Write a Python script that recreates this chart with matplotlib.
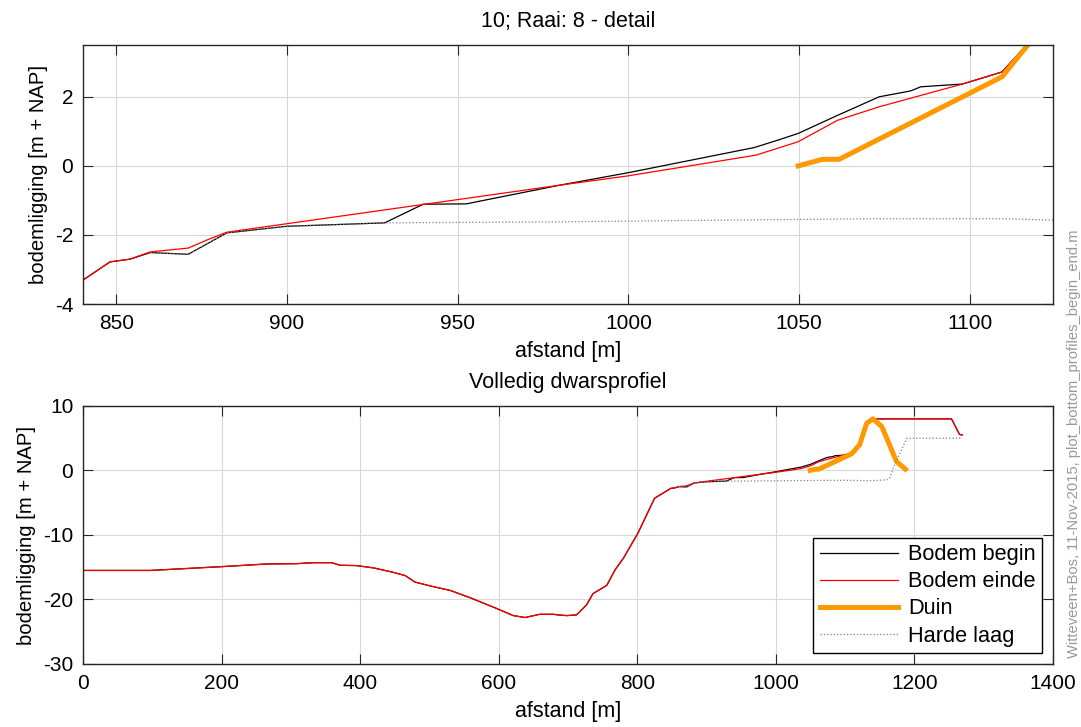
import matplotlib
matplotlib.use('Agg')
import matplotlib.pyplot as plt

plt.rcParams['font.family'] = ['Liberation Sans', 'DejaVu Sans']
plt.rcParams['axes.unicode_minus'] = False

# profiel aan het eind (rood)
x_einde = [0, 97, 202, 265, 308, 332, 359, 371, 395, 419, 448, 465, 479, 501, 530,
           558, 597, 621, 638, 659, 679, 686, 698, 712, 717, 727, 736, 756, 768, 780,
           801, 825, 840.4, 848.2, 854.1, 860, 871.1, 876.5, 882.4, 979.8, 999.8,
           1037.3, 1049.7, 1061.2, 1073.4, 1097.8, 1109.4, 1117, 1121, 1131, 1138,
           1253.5, 1265, 1269]
z_einde = [-15.5, -15.5, -14.9, -14.5, -14.45, -14.3, -14.3, -14.7, -14.75, -15.1,
           -15.8, -16.3, -17.3, -17.9, -18.6, -19.7, -21.4, -22.5, -22.8, -22.3,
           -22.3, -22.4, -22.5, -22.4, -21.9, -20.8, -19.1, -17.8, -15.4, -13.6,
           -9.7, -4.3, -3.3, -2.78, -2.7, -2.49, -2.38, -2.15, -1.92, -0.56, -0.29,
           0.31, 0.70, 1.32, 1.71, 2.37, 2.72, 3.55, 4.1, 7.3, 8.0,
           8.0, 5.6, 5.5]

# profiel bij begin (zwart)
x_begin = [0, 97, 202, 265, 308, 332, 359, 371, 395, 419, 448, 465, 479, 501, 530,
           558, 597, 621, 638, 659, 679, 686, 698, 712, 717, 727, 736, 756, 768, 780,
           801, 825, 840.4, 848.2, 854.1, 860, 871.1, 882.4, 899.8, 928.6, 939.9,
           952.5, 979.8, 999.8, 1036.8, 1044.2, 1049.7, 1060.7, 1073.4, 1082.6,
           1085.6, 1097.8, 1109.4, 1117, 1121, 1131, 1138, 1253.5, 1265, 1269]
z_begin = [-15.5, -15.5, -14.9, -14.5, -14.45, -14.3, -14.3, -14.7, -14.75, -15.1,
           -15.8, -16.3, -17.3, -17.9, -18.6, -19.7, -21.4, -22.5, -22.8, -22.3,
           -22.3, -22.4, -22.5, -22.4, -21.9, -20.8, -19.1, -17.8, -15.4, -13.6,
           -9.7, -4.3, -3.3, -2.78, -2.7, -2.51, -2.56, -1.94, -1.75, -1.65, -1.11,
           -1.1, -0.56, -0.2, 0.53, 0.76, 0.94, 1.44, 2.0, 2.17,
           2.29, 2.37, 2.72, 3.55, 4.1, 7.3, 8.0, 8.0, 5.6, 5.5]

# duin (oranje)
x_duin = [1049.7, 1056.8, 1061.7, 1109.4, 1121, 1131, 1140, 1153, 1174, 1187]
z_duin = [0.0, 0.19, 0.19, 2.58, 4.0, 7.3, 8.0, 6.8, 1.4, 0.2]

# harde laag (grijs gestippeld)
x_hard = [860, 871, 882.3, 899.8, 928.6, 980, 1050, 1073, 1110, 1124, 1135,
          1160, 1165, 1169, 1189, 1268]
z_hard = [-2.51, -2.56, -1.94, -1.75, -1.65, -1.62, -1.55, -1.53, -1.53, -1.57,
          -1.6, -1.45, -1.06, 0.3, 5.0, 5.0]

orange = '#ff9900'
frame = '#262626'

fig = plt.figure(figsize=(10.81, 7.27), dpi=100)
ax1 = fig.add_axes([0.0768, 0.5818, 0.8973, 0.3563])
ax2 = fig.add_axes([0.0768, 0.0867, 0.8973, 0.3549])

for ax in (ax1, ax2):
    l1, = ax.plot(x_begin, z_begin, color='k', lw=0.9)
    l2, = ax.plot(x_einde, z_einde, color='r', lw=0.9)
    l3, = ax.plot(x_duin, z_duin, color=orange, lw=3.6, solid_joinstyle='round')
    l4, = ax.plot(x_hard, z_hard, color='#808080', lw=0.9, ls=':')
    ax.grid(True, color='#d9d9d9', lw=0.8)
    ax.set_axisbelow(True)
    ax.tick_params(direction='in', length=7, top=True, right=True, labelsize=15,
                   color=frame, pad=7)
    for s in ax.spines.values():
        s.set_color(frame)
        s.set_linewidth(1.0)
    ax.set_xlabel('afstand [m]', fontsize=15.5, labelpad=6)
    ax.set_ylabel('bodemligging [m + NAP]', fontsize=14.6, labelpad=5)

ax1.set_xlim(840.3, 1124.3)
ax1.set_ylim(-4, 3.5)
ax1.set_xticks([850, 900, 950, 1000, 1050, 1100])
ax1.set_yticks([-4, -2, 0, 2])
ax1.set_title('10; Raai: 8 - detail', fontsize=15.5, pad=13)

ax2.set_xlim(0, 1400)
ax2.set_ylim(-30, 10)
ax2.set_xticks([0, 200, 400, 600, 800, 1000, 1200, 1400])
ax2.set_yticks([-30, -20, -10, 0, 10])
ax2.set_title('Volledig dwarsprofiel', fontsize=15.5, pad=13)

leg = ax2.legend([l1, l2, l3, l4], ['Bodem begin', 'Bodem einde', 'Duin', 'Harde laag'],
                 loc='lower right', fontsize=15.7, fancybox=False, framealpha=1,
                 edgecolor='k', handlelength=3.6, handletextpad=0.45,
                 labelspacing=0.28, borderaxespad=0.5, borderpad=0.3)
leg.get_frame().set_linewidth(1.0)

fig.text(0.9935, 0.39, 'Witteveen+Bos, 11-Nov-2015, plot_bottom_profiles_begin_end.m',
         rotation=90, ha='center', va='center', fontsize=10.6, color='#999999')

fig.savefig('out.png', dpi=100)
